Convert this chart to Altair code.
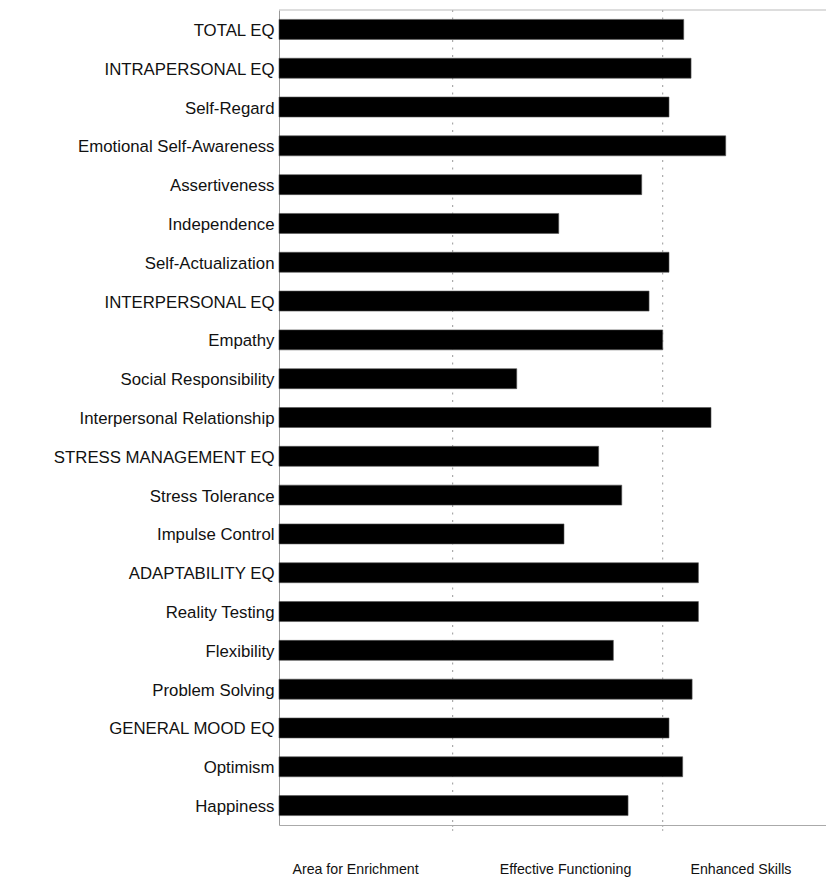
import altair as alt
import pandas as pd

categories = [
    "TOTAL EQ", "INTRAPERSONAL EQ", "Self-Regard", "Emotional Self-Awareness",
    "Assertiveness", "Independence", "Self-Actualization", "INTERPERSONAL EQ",
    "Empathy", "Social Responsibility", "Interpersonal Relationship",
    "STRESS MANAGEMENT EQ", "Stress Tolerance", "Impulse Control",
    "ADAPTABILITY EQ", "Reality Testing", "Flexibility", "Problem Solving",
    "GENERAL MOOD EQ", "Optimism", "Happiness",
]
scores = [
    112.0, 112.7, 110.6, 116.0,
    108.0, 100.1, 110.6, 108.7,
    110.0, 96.1, 114.6,
    103.9, 106.1, 100.6,
    113.4, 113.4, 105.3, 112.8,
    110.6, 111.9, 106.7,
]
zone_names = ["Area for Enrichment", "Effective Functioning", "Enhanced Skills"]
zone_label_pos = [80.7, 100.7, 117.4]
grid_values = [90, 110]
x_min, x_max = 73.46, 125.55

W, H = 547, 815
FONT = "Liberation Sans"

df = pd.DataFrame({"scale": categories, "score": scores})
grid_df = pd.DataFrame({"g": grid_values})
one_df = pd.DataFrame({"a": [0]})

label_expr = (
    f"datum.value < {grid_values[0]} ? '{zone_names[0]}' : "
    f"(datum.value < {grid_values[1]} ? '{zone_names[1]}' : '{zone_names[2]}')"
)

x_scale = alt.Scale(domain=[x_min, x_max], zero=False, nice=False)
x_axis = alt.Axis(
    values=zone_label_pos, labelExpr=label_expr, ticks=False, grid=False,
    domain=True, domainColor="#aaaaaa", labelPadding=37, labelFontSize=14.2,
    labelFont=FONT, labelColor="#111111", title=None, labelOverlap=False,
    labelFlush=False,
)
y_axis = alt.Axis(
    title=None, ticks=False, labelPadding=5, labelFontSize=16.8, labelFont=FONT,
    labelColor="#111111", domainColor="#999999", grid=False, labelLimit=320,
    labelOffset=1.5,
)

grid = alt.Chart(grid_df).mark_rule(
    color="#999999", strokeDash=[2, 5.5], strokeWidth=1
).encode(x=alt.X("g:Q", scale=x_scale, axis=x_axis))

bars = alt.Chart(df).mark_bar(color="black", stroke="#555555", strokeWidth=0.6).encode(
    y=alt.Y("scale:N", sort=categories,
            scale=alt.Scale(paddingInner=0.485, paddingOuter=0.2425), axis=y_axis),
    x=alt.X("score:Q", scale=x_scale, axis=x_axis),
    x2=alt.datum(x_min),
)

ticks = alt.Chart(grid_df).mark_rule(color="#aaaaaa", strokeDash=[2, 2]).encode(
    x=alt.X("g:Q", scale=x_scale, axis=x_axis),
    y=alt.value(H),
    y2=alt.value(H + 6),
)

top_line = alt.Chart(one_df).mark_rule(color="#bbbbbb").encode(
    x=alt.value(0), x2=alt.value(W), y=alt.value(0)
)

chart = alt.layer(grid, bars, ticks, top_line).properties(
    width=W, height=H,
    autosize=alt.AutoSizeParams(type="none"),
    padding={"left": 271, "top": 2, "right": 0, "bottom": 56},
    background="white",
).configure_view(stroke=None)

chart.save("out.html", embed_options={"renderer": "svg", "actions": False})
